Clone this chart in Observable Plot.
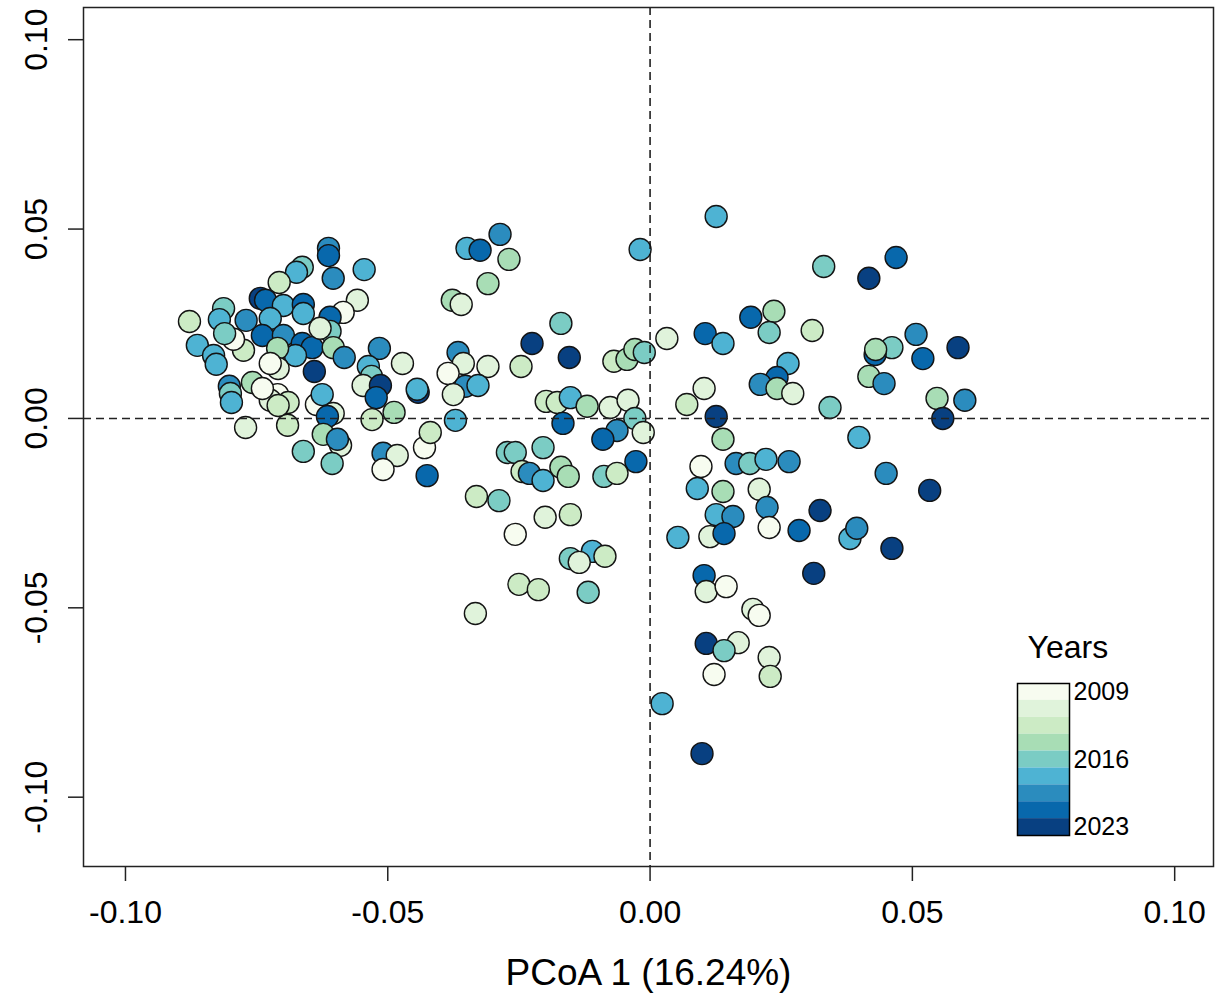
<!DOCTYPE html>
<html>
<head>
<meta charset="utf-8">
<script src="https://cdn.jsdelivr.net/npm/d3@7"></script>
<script src="https://cdn.jsdelivr.net/npm/@observablehq/plot@0.6"></script>
<style>
  html, body { margin: 0; padding: 0; background: #fff; }
  #wrap { position: relative; width: 1216px; height: 994px; font-family: "Liberation Sans", Arial, sans-serif; }
  #legend { position: absolute; left: 990px; top: 610px; }
</style>
</head>
<body>
<div id="wrap"><div id="chart"></div><div id="legend"></div></div>
<script>
// PCoA axis 1 scores
const pc1 = [
  -0.0613,-0.0613,-0.0604,-0.0545,-0.0663,-0.0674,-0.0707,-0.0558,-0.0585,-0.0610,
  -0.0743,-0.0733,-0.0699,-0.0661,-0.0661,-0.0813,-0.0821,-0.0878,-0.0770,-0.0724,
  -0.0610,-0.0739,-0.0699,-0.0663,-0.0644,-0.0676,-0.0604,-0.0583,-0.0775,-0.0710,
  -0.0709,-0.0724,-0.0640,-0.0516,-0.0537,-0.0531,-0.0547,-0.0514,-0.0522,-0.0472,
  -0.0442,-0.0444,-0.0758,-0.0710,-0.0690,-0.0724,-0.0739,-0.0636,-0.0625,-0.0604,
  -0.0615,-0.0623,-0.0590,-0.0596,-0.0691,-0.0771,-0.0661,-0.0606,-0.0530,-0.0488,
  -0.0509,-0.0482,-0.0509,-0.0430,-0.0419,-0.0425,-0.0863,-0.0832,-0.0827,-0.0794,
  -0.0802,-0.0800,-0.0798,-0.0811,-0.0709,-0.0629,-0.0371,-0.0286,-0.0349,-0.0324,
  -0.0269,-0.0309,-0.0377,-0.0360,-0.0170,-0.0225,-0.0154,-0.0246,-0.0366,-0.0356,
  -0.0385,-0.0309,-0.0352,-0.0328,-0.0375,-0.0069,-0.0044,-0.0029,-0.0011,-0.0019,
  -0.0198,-0.0177,-0.0152,-0.0120,-0.0076,-0.0042,-0.0166,-0.0029,-0.0013,-0.0063,
  -0.0090,-0.0027,-0.0088,-0.0063,-0.0272,-0.0257,-0.0204,-0.0244,-0.0230,-0.0204,
  -0.0170,-0.0156,-0.0331,-0.0288,-0.0200,-0.0152,-0.0257,-0.0152,-0.0110,-0.0086,
  -0.0135,-0.0250,-0.0213,-0.0118,-0.0333, 0.0023, 0.0099, 0.0126, 0.0032, 0.0105,
   0.0139, 0.0192, 0.0236, 0.0227, 0.0309, 0.0263, 0.0242, 0.0210, 0.0242, 0.0272,
   0.0343, 0.0103, 0.0070, 0.0126, 0.0139, 0.0097, 0.0164, 0.0190, 0.0221, 0.0265,
   0.0090, 0.0139, 0.0208, 0.0223, 0.0227, 0.0284, 0.0324, 0.0126, 0.0158, 0.0114,
   0.0141, 0.0053, 0.0103, 0.0107, 0.0145, 0.0196, 0.0208, 0.0107, 0.0168, 0.0141,
   0.0227, 0.0229, 0.0122, 0.0331, 0.0469, 0.0417, 0.0507, 0.0587, 0.0520, 0.0461,
   0.0429, 0.0430, 0.0417, 0.0446, 0.0547, 0.0600, 0.0558, 0.0398, 0.0450, 0.0533,
   0.0381, 0.0394, 0.0461, 0.0312
];
// PCoA axis 2 scores
const pc2 = [
   0.0449, 0.0430, 0.0370, 0.0393, 0.0399, 0.0386, 0.0359, 0.0312, 0.0280, 0.0267,
   0.0317, 0.0312, 0.0298, 0.0301, 0.0277, 0.0290, 0.0261, 0.0256, 0.0259, 0.0264,
   0.0230, 0.0219, 0.0219, 0.0198, 0.0187, 0.0166, 0.0187, 0.0161, 0.0180, 0.0185,
   0.0132, 0.0145, 0.0124, 0.0185, 0.0137, 0.0111, 0.0087, 0.0087, 0.0055, 0.0145,
   0.0069, 0.0077, 0.0095, 0.0063, 0.0042, 0.0048, 0.0079, 0.0037, 0.0063, 0.0013,
   0.0005,-0.0042,-0.0071,-0.0055,-0.0018,-0.0024,-0.0087,-0.0119,-0.0003, 0.0016,
  -0.0092,-0.0098,-0.0135,-0.0077,-0.0037,-0.0151, 0.0193, 0.0166, 0.0143, 0.0209,
   0.0085, 0.0066, 0.0042, 0.0224, 0.0034, 0.0238,-0.0005, 0.0486, 0.0449, 0.0444,
   0.0420, 0.0356, 0.0312, 0.0301, 0.0251, 0.0198, 0.0161, 0.0137, 0.0174, 0.0145,
   0.0119, 0.0137, 0.0085, 0.0087, 0.0063, 0.0151, 0.0156, 0.0182, 0.0174, 0.0446,
   0.0045, 0.0042, 0.0055, 0.0032, 0.0029, 0.0048,-0.0013, 0.0000,-0.0037,-0.0032,
  -0.0055,-0.0114,-0.0153,-0.0145,-0.0090,-0.0090,-0.0077,-0.0140,-0.0145,-0.0164,
  -0.0129,-0.0153,-0.0206,-0.0217,-0.0261,-0.0254,-0.0306,-0.0370,-0.0351,-0.0364,
  -0.0380,-0.0438,-0.0452,-0.0459,-0.0515,-0.0753,-0.0885, 0.0533, 0.0211, 0.0224,
   0.0198, 0.0267, 0.0283, 0.0227, 0.0232, 0.0145, 0.0108, 0.0090, 0.0079, 0.0066,
   0.0029, 0.0079, 0.0037, 0.0005,-0.0055,-0.0127,-0.0119,-0.0119,-0.0108,-0.0114,
  -0.0185,-0.0193,-0.0187,-0.0235,-0.0288,-0.0296,-0.0243,-0.0254,-0.0259,-0.0312,
  -0.0304,-0.0314,-0.0415,-0.0457,-0.0444,-0.0504,-0.0520,-0.0594,-0.0592,-0.0613,
  -0.0631,-0.0681,-0.0676, 0.0401, 0.0425, 0.0370, 0.0222, 0.0187, 0.0158, 0.0187,
   0.0169, 0.0182, 0.0111, 0.0092, 0.0053, 0.0048, 0.0000,-0.0050,-0.0145,-0.0190,
  -0.0317,-0.0290,-0.0343,-0.0409
];
// Sampling year of each point
const years = [
  2019,2021,2019,2018,2016,2017,2013,2012,2009,2020,
  2022,2020,2017,2021,2018,2016,2017,2013,2019,2018,
  2016,2020,2019,2021,2020,2017,2014,2019,2013,2015,
  2011,2010,2023,2019,2018,2016,2012,2022,2020,2011,
  2023,2017,2014,2009,2013,2011,2010,2009,2018,2012,
  2021,2015,2011,2019,2013,2012,2016,2016,2013,2014,
  2019,2011,2010,2009,2013,2020,2017,2018,2017,2009,
  2019,2016,2018,2016,2013,2012,2017,2019,2018,2020,
  2015,2014,2015,2011,2016,2022,2023,2013,2019,2012,
  2009,2011,2019,2017,2012,2013,2014,2015,2016,2017,
  2013,2013,2018,2014,2011,2012,2020,2016,2011,2019,
  2021,2020,2016,2013,2016,2016,2016,2013,2019,2017,
  2014,2015,2013,2016,2011,2013,2009,2016,2018,2013,
  2012,2013,2013,2016,2011,2017,2022,2018,2012,2020,
  2017,2021,2014,2016,2013,2017,2020,2019,2015,2011,
  2016,2012,2013,2022,2014,2009,2019,2016,2018,2019,
  2017,2015,2011,2019,2010,2020,2023,2017,2019,2012,
  2021,2018,2020,2011,2009,2012,2010,2022,2011,2016,
  2012,2013,2009,2016,2020,2022,2019,2023,2021,2016,
  2020,2014,2015,2019,2014,2019,2022,2017,2019,2023,
  2018,2019,2022,2023
];
// Year classes (9 colour classes over 2009–2023)
const yearBreaks = [2010.5, 2012.5, 2013.5, 2015.5, 2016.5, 2018.5, 2019.5, 2021.5];
const legendClassYears = [2009, 2011, 2013, 2014, 2016, 2017, 2019, 2020, 2022];
const legendLabels = [2009, 2016, 2023];
const xTicks = [-0.10, -0.05, 0.00, 0.05, 0.10];
const yTicks = [-0.10, -0.05, 0.00, 0.05, 0.10];
const xLabel = "PCoA 1 (16.24%)";
const legendTitle = "Years";

const points = pc1.map((x, i) => ({x, y: pc2[i], year: years[i]}));
const palette = d3.schemeGnBu[9];
const colorOpts = {type: "threshold", domain: yearBreaks, range: palette};
const font = "'Liberation Sans', Arial, sans-serif";
const fmt = d => d.toFixed(2);

const chart = Plot.plot({
  width: 1216,
  height: 994,
  marginLeft: 83,
  marginRight: 3,
  marginTop: 7,
  marginBottom: 128,
  style: {fontFamily: font, background: "#fff", color: "#000"},
  x: {domain: [-0.108, 0.1074]},
  y: {domain: [-0.1183, 0.1085]},
  color: colorOpts,
  marks: [
    Plot.dot(points, {x: "x", y: "y", r: 11, fill: "year", stroke: "#141414", strokeWidth: 1.4}),
    Plot.ruleX([0], {stroke: "#111", strokeWidth: 1.5, strokeDasharray: "8,5"}),
    Plot.ruleY([0], {stroke: "#222", strokeWidth: 1.5, strokeDasharray: "8,5"}),
    Plot.frame({stroke: "#222", strokeWidth: 1.5}),
    Plot.axisX({ticks: xTicks, tickFormat: fmt, tickSize: 15, tickPadding: 19, fontSize: 32, label: null, stroke: "#222", strokeWidth: 1.5}),
    Plot.axisY({ticks: yTicks, tickFormat: fmt, tickSize: 15, tickPadding: 22, tickRotate: -90, fontSize: 32, label: null, stroke: "#222", strokeWidth: 1.5}),
    Plot.text([xLabel], {text: d => d, frameAnchor: "bottom", dy: 118, lineAnchor: "bottom", fontSize: 37, fill: "#000"})
  ]
});
document.getElementById("chart").appendChild(chart);

const classIndex = y => d3.bisectRight(yearBreaks, y);
const legend = Plot.plot({
  width: 220,
  height: 250,
  marginLeft: 27,
  marginRight: 141,
  marginTop: 73,
  marginBottom: 25,
  style: {fontFamily: font, background: "transparent", color: "#000", overflow: "visible"},
  x: {axis: null},
  y: {type: "band", domain: d3.range(palette.length), padding: 0, round: false, axis: null},
  color: colorOpts,
  marks: [
    Plot.cell(legendClassYears, {y: d => classIndex(d), fill: d => d}),
    Plot.frame({stroke: "#000", strokeWidth: 1.5}),
    Plot.text(legendLabels, {y: d => classIndex(d), text: d => String(d), frameAnchor: "right", textAnchor: "start", dx: 4, fontSize: 25, fill: "#000"}),
    Plot.text([legendTitle], {text: d => d, frameAnchor: "top-left", dx: 10, dy: -26, textAnchor: "start", lineAnchor: "bottom", fontSize: 32, fill: "#000"})
  ]
});
document.getElementById("legend").appendChild(legend);
</script>
</body>
</html>
